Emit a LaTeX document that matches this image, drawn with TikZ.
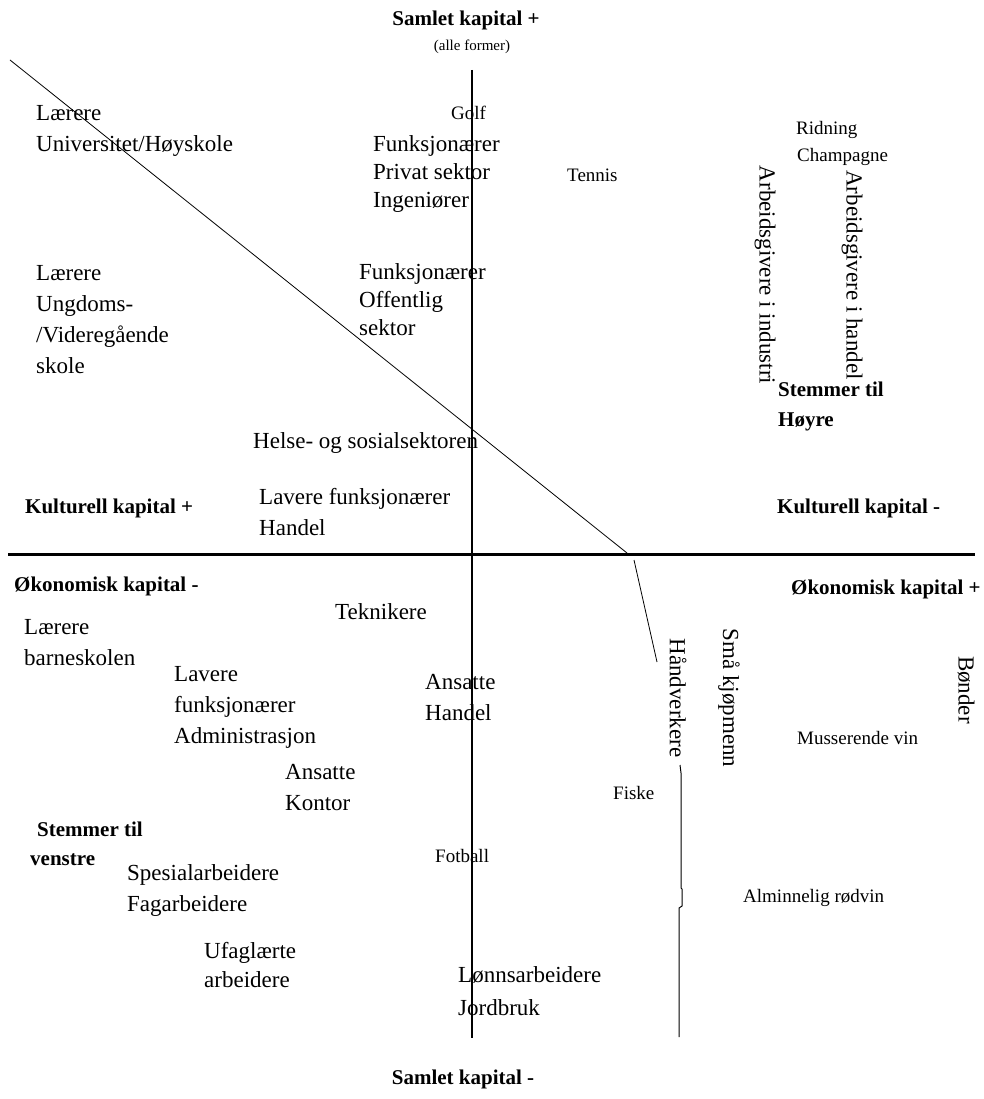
\documentclass[tikz,border=0pt]{standalone}
\usepackage{fontspec}
\setmainfont{Liberation Serif}
\tikzset{
  lbl/.style={inner sep=0pt, anchor=west, align=left, font=\fontsize{23}{31}\selectfont},
  lbltight/.style={lbl, font=\fontsize{23}{28}\selectfont},
  smalltxt/.style={inner sep=0pt, anchor=west, font=\fontsize{19}{22}\selectfont},
  axislbl/.style={inner sep=0pt, anchor=west, align=left, font=\bfseries\fontsize{21}{30}\selectfont},
  vertlbl/.style={inner sep=0pt, rotate=-90, font=\fontsize{23}{28}\selectfont},
}
\begin{document}
\begin{tikzpicture}[x=1pt, y=-1pt]
  \useasboundingbox (0,0) rectangle (983,1099);
  % Akser
  \node at (466,20) (samletpluss) [axislbl, anchor=center] {Samlet kapital +};
  \node at (472,47) (alle) [inner sep=0pt, font=\fontsize{15}{17}\selectfont] {(alle former)};
  \node at (463,1079) (samletminus) [axislbl, anchor=center] {Samlet kapital -};
  \node at (25,508) (kultpluss) [axislbl] {Kulturell kapital +};
  \node at (777,508) (kultminus) [axislbl] {Kulturell kapital -};
  \node at (14,586) (okminus) [axislbl] {Økonomisk kapital -};
  \node at (791,589) (okpluss) [axislbl] {Økonomisk kapital +};
  \coordinate (topp) at (472,70);
  \coordinate (bunn) at (472,1038);
  \coordinate (venstre) at (8,554);
  \coordinate (hoyre) at (975,554);
  \draw[line width=1.4pt] (topp) -- (bunn);
  \draw[line width=3pt] (venstre) -- (hoyre);

  % Skillelinje
  \coordinate (d1) at (10,60);
  \coordinate (d2) at (627,553);
  \coordinate (d3) at (634,560);
  \coordinate (d4) at (657,662);
  \coordinate (d5) at (680,765);
  \coordinate (d6) at (679,1037);
  \draw[line width=0.8pt] (d1) -- (d2);
  \draw[line width=0.8pt] (d3) -- (d4);
  \draw[line width=1pt] (d5) -- (681,773) -- (681,888) -- (682,889) -- (682,906) -- (679,908) -- (d6);

  % Yrker over
  \node at (36,130.5) (laererUni) [lbl] {Lærere\\Universitet/Høyskole};
  \node at (373,174.5) (funkPrivat) [lbltight] {Funksjonærer\\Privat sektor\\Ingeniører};
  \node at (36,320) (laererVgs) [lbl] {Lærere\\Ungdoms-\\/Videregående\\skole};
  \node at (359,300) (funkOff) [lbltight] {Funksjonærer\\Offentlig\\sektor};
  \node at (253,443) (helse) [lbl] {Helse- og sosialsektoren};
  \node at (259,512.5) (lavHandel) [lbl] {Lavere funksjonærer\\Handel};
  \node at (765,275) (arbInd) [vertlbl] {Arbeidsgivere i industri};
  \node at (852,275) (arbHan) [vertlbl] {Arbeidsgivere i handel};
  \node at (778,406) (hoyrePart) [axislbl] {Stemmer til\\Høyre};

  % Yrker under
  \node at (335,612) (tekn) [lbl] {Teknikere};
  \node at (24,642.5) (laererBarn) [lbl] {Lærere\\barneskolen};
  \node at (174,707) (lavAdm) [lbl] {Lavere\\funksjonærer\\Administrasjon};
  \node at (425,697.5) (ansHandel) [lbl] {Ansatte\\Handel};
  \node at (285,787.5) (ansKontor) [lbl] {Ansatte\\Kontor};
  \node at (37,829) (venstre1) [axislbl] {Stemmer til};
  \node at (30,860) (venstre2) [axislbl] {venstre};
  \node at (127,890.5) (spesFag) [lbl] {Spesialarbeidere\\Fagarbeidere};
  \node at (204,965.5) (ufaglaert) [lbl, font=\fontsize{23}{29}\selectfont] {Ufaglærte\\arbeidere};
  \node at (458,991.5) (lonnJord) [lbl, font=\fontsize{23}{33}\selectfont] {Lønnsarbeidere\\Jordbruk};
  \node at (678,698) (handverk) [vertlbl] {Håndverkere};
  \node at (729,698) (smaaKjop) [vertlbl] {Små kjøpmenn};
  \node at (966,690) (bonder) [vertlbl] {Bønder};

  % Smak
  \node at (451,113) (golf) [smalltxt] {Golf};
  \node at (567,175) (tennis) [smalltxt] {Tennis};
  \node at (796,130) (ridning) [smalltxt] {Ridning};
  \node at (797,157) (champ) [smalltxt] {Champagne};
  \node at (613,793) (fiske) [smalltxt] {Fiske};
  \node at (435,856) (fotball) [smalltxt] {Fotball};
  \node at (797,738) (musserende) [smalltxt] {Musserende vin};
  \node at (743,898) (rodvin) [smalltxt] {Alminnelig rødvin};
\end{tikzpicture}
\end{document}
